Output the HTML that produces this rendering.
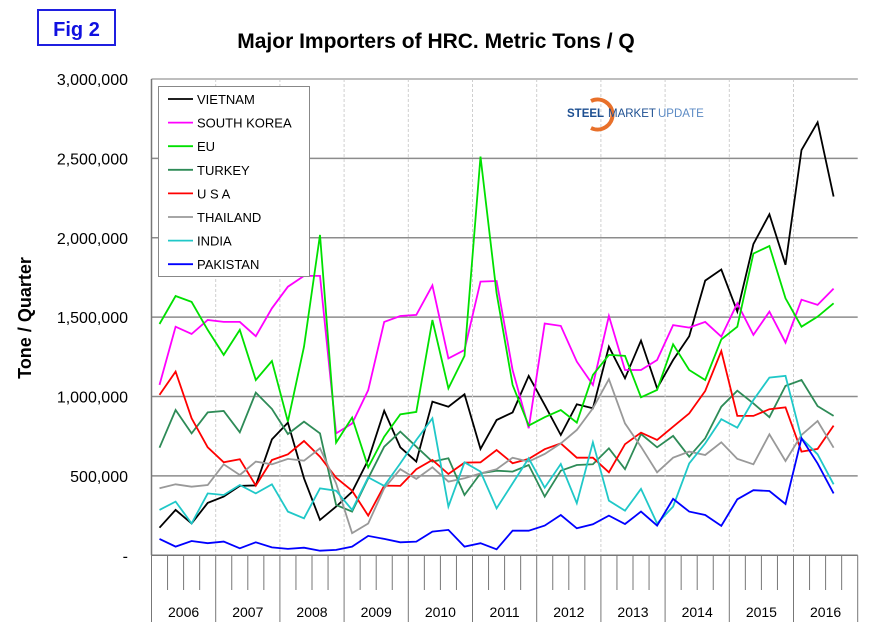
<!DOCTYPE html>
<html><head><meta charset="utf-8"><style>
body{margin:0;background:#fff;}
svg{display:block;font-family:"Liberation Sans",Arial,sans-serif;}
</style></head><body>
<svg id="chart" width="872" height="640" viewBox="0 0 872 640">
<rect width="872" height="640" fill="#fff"/>
<rect x="38" y="10" width="77" height="35" fill="#fff" stroke="#1f1fe0" stroke-width="2"/>
<text x="76.5" y="36" text-anchor="middle" font-size="20" font-weight="bold" fill="#1010e0">Fig 2</text>
<text x="436" y="48" text-anchor="middle" font-size="21" font-weight="bold" fill="#000">Major Importers of HRC. Metric Tons / Q</text>
<text transform="translate(31,318) rotate(-90)" text-anchor="middle" font-size="18" font-weight="bold">Tone / Quarter</text>
<g id="grid"></g><g id="axes"></g>
<g>
<path d="M591,101 A15,15 0 1 1 591,128" fill="none" stroke="#e8702a" stroke-width="4"/>
<text x="567" y="117" font-size="11.5" font-weight="bold" fill="#1d4f91">STEEL</text>
<text x="608" y="117" font-size="11.5" fill="#1d4f91">MARKET</text>
<text x="658" y="117" font-size="11.5" fill="#5b8ac4">UPDATE</text>
</g>
<g id="series"></g>
<g id="legend"></g>
</svg>
<script>
const years=["2006","2007","2008","2009","2010","2011","2012","2013","2014","2015","2016"];
const yTicks=[0,500000,1000000,1500000,2000000,2500000,3000000];
const yTickLabels=["-","500,000","1,000,000","1,500,000","2,000,000","2,500,000","3,000,000"];
const seriesNames=["VIETNAM","SOUTH KOREA","EU","TURKEY","U S A","THAILAND","INDIA","PAKISTAN"];
const seriesColors=["#000000","#ff00ff","#00e000","#2e8b57","#ff0000","#999999","#20c8c8","#0000ff"];
const vietnam=[0.174,0.286,0.20,0.33,0.37,0.437,0.44,0.73,0.836,0.485,0.223,0.307,0.40,0.60,0.91,0.68,0.59,0.968,0.936,1.014,0.67,0.852,0.90,1.13,0.947,0.758,0.951,0.926,1.314,1.115,1.352,1.052,1.23,1.38,1.73,1.80,1.535,1.96,2.148,1.83,2.553,2.727,2.259];
const southKorea=[1.073,1.44,1.394,1.482,1.47,1.47,1.38,1.556,1.692,1.76,1.76,0.768,0.83,1.04,1.47,1.507,1.514,1.70,1.24,1.293,1.724,1.728,1.167,0.80,1.46,1.445,1.22,1.073,1.507,1.167,1.167,1.23,1.45,1.434,1.47,1.377,1.587,1.388,1.535,1.34,1.61,1.577,1.68];
const eu=[1.457,1.633,1.596,1.42,1.262,1.42,1.104,1.224,0.842,1.314,2.018,0.71,0.867,0.554,0.747,0.888,0.903,1.482,1.052,1.256,2.511,1.65,1.073,0.817,0.87,0.915,0.836,1.136,1.262,1.256,0.995,1.041,1.329,1.167,1.104,1.36,1.44,1.90,1.948,1.619,1.44,1.503,1.587];
const turkey=[0.678,0.915,0.768,0.90,0.909,0.775,1.025,0.922,0.764,0.842,0.768,0.317,0.275,0.485,0.684,0.779,0.684,0.59,0.611,0.38,0.516,0.533,0.527,0.569,0.37,0.533,0.569,0.573,0.674,0.542,0.764,0.68,0.752,0.621,0.737,0.936,1.037,0.957,0.87,1.067,1.104,0.94,0.878];
const usa=[1.01,1.157,0.863,0.68,0.586,0.605,0.439,0.60,0.636,0.72,0.621,0.489,0.407,0.25,0.439,0.437,0.542,0.60,0.512,0.584,0.586,0.663,0.58,0.607,0.668,0.705,0.615,0.615,0.523,0.70,0.773,0.726,0.81,0.894,1.035,1.287,0.878,0.878,0.92,0.932,0.653,0.67,0.817];
const thailand=[0.422,0.447,0.432,0.443,0.573,0.506,0.59,0.573,0.607,0.596,0.674,0.453,0.139,0.20,0.422,0.542,0.481,0.554,0.464,0.485,0.516,0.542,0.615,0.59,0.638,0.705,0.789,0.926,1.109,0.831,0.684,0.523,0.615,0.653,0.632,0.712,0.607,0.573,0.762,0.594,0.758,0.846,0.678];
const india=[0.286,0.338,0.20,0.39,0.38,0.443,0.39,0.447,0.275,0.233,0.422,0.407,0.286,0.491,0.437,0.579,0.726,0.863,0.307,0.586,0.527,0.296,0.453,0.611,0.426,0.575,0.328,0.712,0.344,0.281,0.418,0.20,0.307,0.579,0.705,0.857,0.804,0.978,1.119,1.13,0.737,0.636,0.447];
const pakistan=[0.103,0.055,0.09,0.076,0.086,0.044,0.082,0.05,0.04,0.048,0.029,0.034,0.055,0.122,0.103,0.082,0.086,0.149,0.16,0.055,0.076,0.038,0.155,0.155,0.187,0.254,0.17,0.195,0.25,0.197,0.275,0.187,0.355,0.275,0.254,0.185,0.353,0.41,0.405,0.323,0.737,0.579,0.39];
const allSeries=[vietnam,southKorea,eu,turkey,usa,thailand,india,pakistan];

const NS="http://www.w3.org/2000/svg";
const X0=151.5,YW=64.2,QW=YW/4,YB=555.3,YT=79;
function xq(i){return X0+QW/2+QW*i;}
function yv(v){return YB-v/3000000*(YB-YT);}
function mk(tag,attrs,parent){const e=document.createElementNS(NS,tag);for(const k in attrs)e.setAttribute(k,attrs[k]);parent.appendChild(e);return e;}
const gridG=document.getElementById('grid'),axesG=document.getElementById('axes'),serG=document.getElementById('series'),legG=document.getElementById('legend');
const XR=X0+YW*years.length;
yTicks.forEach((t,k)=>{
 const y=yv(t);
 if(t>0){const l=mk('line',{x1:X0,x2:XR,y1:y,y2:y,stroke:'#8c8c8c','stroke-width':1.5},gridG);
 
 }
 const tx=mk('text',{x:128,y:y+6,'text-anchor':'end','font-size':16},axesG);
 tx.textContent=yTickLabels[k];
 
 
});
years.forEach((yr,k)=>{
 const xs=X0+YW*k;
 if(k>0){const d=mk('line',{x1:xs,x2:xs,y1:YT,y2:YB,stroke:'#cfcfcf','stroke-dasharray':'3,2'},gridG);
 
 }
 const s=mk('line',{x1:xs,x2:xs,y1:YB,y2:622,stroke:'#777'},axesG);
 
 
 for(let q=1;q<4;q++){const t=mk('line',{x1:xs+QW*q,x2:xs+QW*q,y1:YB,y2:590,stroke:'#777'},axesG);
 
 }
 const lb=mk('text',{x:xs+YW/2,y:617,'text-anchor':'middle','font-size':14},axesG);
 lb.textContent=yr;
 
 
});
const endS=mk('line',{x1:XR,x2:XR,y1:YB,y2:622,stroke:'#777'},axesG);


const topBorder=mk('line',{x1:X0,x2:XR,y1:YT,y2:YT,stroke:'#bbb','stroke-width':1.5},gridG);


const xa=mk('line',{x1:X0,x2:XR,y1:YB,y2:YB,stroke:'#777','stroke-width':1.5},axesG);


const ya=mk('line',{x1:X0,x2:X0,y1:YT,y2:YB,stroke:'#777','stroke-width':1.5},axesG);


allSeries.forEach((arr,si)=>{
 const pts=arr.map((v,i)=>xq(i).toFixed(1)+','+yv(v*1000000).toFixed(1)).join(' ');
 const pl=mk('polyline',{points:pts,fill:'none',stroke:seriesColors[si],'stroke-width':1.8},serG);
 
 
});
const lbox=mk('rect',{x:158.5,y:86.5,width:151,height:190,fill:'#fff',stroke:'#888','stroke-width':1},legG);


seriesNames.forEach((n,si)=>{
 const y=99+23.6*si;
 const g=mk('g',{},legG);
 
 
 mk('line',{x1:168,x2:193,y1:y,y2:y,stroke:seriesColors[si],'stroke-width':1.8},g);
 const t=mk('text',{x:197,y:y+5,'font-size':13},g);
 t.textContent=n;
});
</script>
</body></html>
